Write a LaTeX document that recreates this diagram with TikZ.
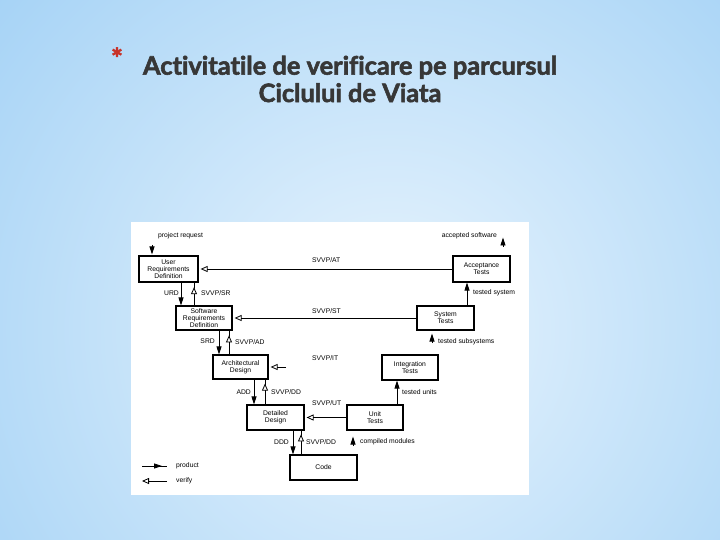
\documentclass[tikz,border=0pt]{standalone}
\usepackage{fontspec}
\setmainfont{Liberation Sans}
\newfontfamily\titlefont[Ligatures=NoCommon, BoldFeatures={FakeBold=2.2}]{Lato}
\usetikzlibrary{arrows.meta,decorations.markings}
\definecolor{bgin}{RGB}{232,244,253}
\definecolor{bgout}{RGB}{158,207,245}
\definecolor{titlegray}{RGB}{55,55,55}
\definecolor{starred}{RGB}{200,50,40}
\tikzset{
  box/.style={draw, line width=1.2bp, fill=white, align=center, inner sep=0pt,
     font=\fontsize{6.8}{7.3}\selectfont},
  lbl/.style={font=\fontsize{6.8}{7.3}\selectfont, inner sep=0pt},
  product/.style={line width=0.8bp, -{Triangle[width=5bp,length=8bp]}},
  verify/.style={line width=0.8bp, -{Triangle[open,width=6bp,length=7bp]}, shorten >=2bp},
  vmid/.style={line width=0.8bp, postaction={decorate, decoration={markings,
     mark=at position #1 with {\arrow{Triangle[fill=white,width=6bp,length=7bp]}}}}},
  pmid/.style={line width=0.8bp, postaction={decorate, decoration={markings,
     mark=at position #1 with {\arrow{Triangle[width=5bp,length=8bp]}}}}},
}
\begin{document}
\begin{tikzpicture}[x=1bp,y=-1bp]
\useasboundingbox (0,0) rectangle (720,540);
% background
\begin{scope}
\clip (0,0) rectangle (720,540);
\shade[inner color=bgin, outer color=bgout] (390,330) circle (580);
\end{scope}
% title
\node[text=starred, font=\titlefont\bfseries\fontsize{28}{28}\selectfont, inner sep=0pt] (star) at (117,58) {*};
\node[text=titlegray, font=\titlefont\bfseries\fontsize{25.5}{27.5}\selectfont, align=center, inner sep=0pt] (title) at (350,79)
  {Activitatile de verificare pe parcursul\\Ciclului de Viata};
% panel
\node[fill=white, minimum width=398bp, minimum height=273bp, inner sep=0pt] (panel) at (330,358.5) {};
% boxes
\node[box, minimum width=59bp, minimum height=26bp] (URD) at (168.5,269) {User\\Requirements\\Definition};
\node[box, minimum width=57bp, minimum height=26bp] (AT) at (481.5,269) {Acceptance\\Tests};
\node[box, minimum width=56bp, minimum height=24bp] (SRD) at (204,318) {Software\\Requirements\\Definition};
\node[box, minimum width=57bp, minimum height=24bp] (ST) at (445.5,318) {System\\Tests};
\node[box, minimum width=55bp, minimum height=24bp] (AD) at (240.5,367) {Architectural\\Design};
\node[box, minimum width=56bp, minimum height=25bp] (IT) at (410,367.5) {Integration\\Tests};
\node[box, minimum width=57bp, minimum height=25bp] (DD) at (275.5,417.5) {Detailed\\Design};
\node[box, minimum width=56bp, minimum height=25bp] (UT) at (375,417.5) {Unit\\Tests};
\node[box, minimum width=67bp, minimum height=25bp] (Code) at (323.5,467.5) {Code};
% x positions for vertical links
\coordinate (x1) at (181,0);
\coordinate (x2) at (194,0);
\coordinate (x3) at (219,0);
\coordinate (x4) at (229,0);
\coordinate (x5) at (254,0);
\coordinate (x6) at (265,0);
\coordinate (x7) at (293,0);
\coordinate (x8) at (301,0);
\coordinate (x9) at (467,0);
\coordinate (x10) at (397,0);
% product links
\draw[product] (URD.south -| x1) -- (SRD.north -| x1);
\draw[product] (SRD.south -| x3) -- (AD.north -| x3);
\draw[product] (AD.south -| x5) -- (DD.north -| x5);
\draw[product] (DD.south -| x7) -- (Code.north -| x7);
\draw[product] (ST.north -| x9) -- (AT.south -| x9);
\draw[product] (UT.north -| x10) -- (IT.south -| x10);
% isolated product heads
\coordinate (pr1) at (152,245); \coordinate (pr2) at (152,254.5);
\draw[product] (pr1) -- (pr2);
\coordinate (as1) at (503,247); \coordinate (as2) at (503,237.5);
\draw[product] (as1) -- (as2);
\coordinate (tss1) at (432,343); \coordinate (tss2) at (432,333.5);
\draw[product] (tss1) -- (tss2);
\coordinate (cm1) at (353,446); \coordinate (cm2) at (353,436.5);
\draw[product] (cm1) -- (cm2);
% verify links (vertical)
\draw[vmid=0.8] (SRD.north -| x2) -- (URD.south -| x2);
\draw[vmid=0.8] (AD.north -| x4) -- (SRD.south -| x4);
\draw[vmid=0.84] (DD.north -| x6) -- (AD.south -| x6);
\draw[vmid=0.84] (Code.north -| x8) -- (DD.south -| x8);
% verify links (horizontal)
\draw[verify] (AT.west) -- (URD.east);
\draw[verify] (ST.west) -- (SRD.east);
\coordinate (itv) at (286,367);
\draw[verify] (itv) -- (AD.east);
\draw[verify] (UT.west) -- (DD.east);
% labels
\node[lbl, anchor=west] (l1) at (158,236) {project request};
\node[lbl, anchor=east] (l2) at (497,236) {accepted software};
\node[lbl, anchor=west] (l3) at (312,260) {SVVP/AT};
\node[lbl, anchor=east] (l4) at (179,293) {URD};
\node[lbl, anchor=west] (l5) at (201,293) {SVVP/SR};
\node[lbl, anchor=west] (l6) at (473,293) {tested system};
\node[lbl, anchor=west] (l7) at (312,311) {SVVP/ST};
\node[lbl, anchor=east] (l8) at (215,341) {SRD};
\node[lbl, anchor=west] (l9) at (235,342) {SVVP/AD};
\node[lbl, anchor=west] (l10) at (438,342) {tested subsystems};
\node[lbl, anchor=west] (l11) at (312,358) {SVVP/IT};
\node[lbl, anchor=east] (l12) at (251,392) {ADD};
\node[lbl, anchor=west] (l13) at (271,392) {SVVP/DD};
\node[lbl, anchor=west] (l14) at (402,392) {tested units};
\node[lbl, anchor=west] (l15) at (312,403) {SVVP/UT};
\node[lbl, anchor=east] (l16) at (289,442) {DDD};
\node[lbl, anchor=west] (l17) at (306,442) {SVVP/DD};
\node[lbl, anchor=west] (l18) at (360,442) {compiled modules};
% legend
\coordinate (lp1) at (142,466); \coordinate (lp2) at (167,466);
\draw[pmid=0.8] (lp1) -- (lp2);
\coordinate (lv1) at (142,481); \coordinate (lv2) at (167,481);
\draw[line width=0.8bp, -{Triangle[open,width=6bp,length=7bp]}] (lv2) -- (lv1);
\node[lbl, anchor=west] (lg1) at (176,466) {product};
\node[lbl, anchor=west] (lg2) at (176,481) {verify};
\end{tikzpicture}
\end{document}
